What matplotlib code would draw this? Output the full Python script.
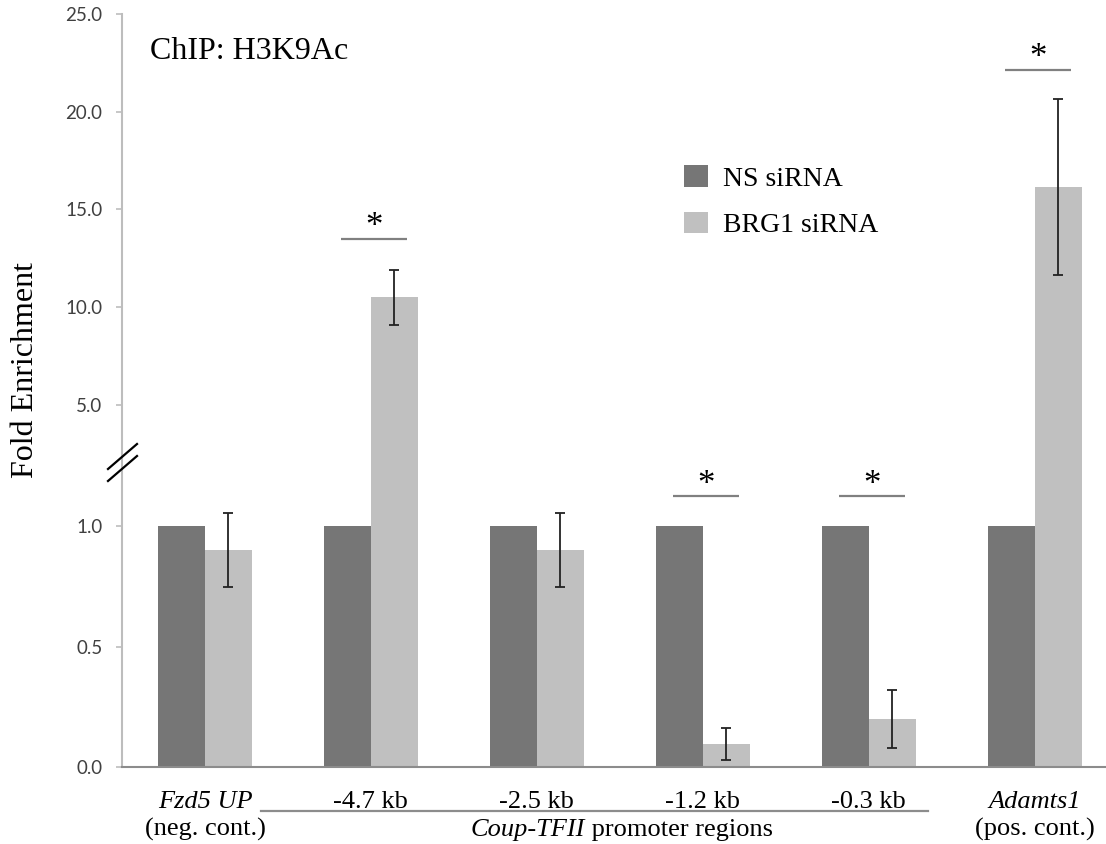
import matplotlib
matplotlib.use("Agg")
import matplotlib.pyplot as plt
import matplotlib.transforms as mtransforms
import numpy as np

groups = ["Fzd5 UP", "-4.7 kb", "-2.5 kb", "-1.2 kb", "-0.3 kb", "Adamts1"]
sublabels = ["(neg. cont.)", "", "", "", "", "(pos. cont.)"]
italic = [True, False, False, False, False, True]
ns_vals = [1.0, 1.0, 1.0, 1.0, 1.0, 1.0]
brg1_vals = [0.90, 10.5, 0.90, 0.095, 0.20, 16.15]
brg1_err = [0.155, 1.4, 0.152, 0.065, 0.12, 4.5]
# significance markers: group index, height of bar line
sig_groups = [1, 3, 4, 5]
sig_heights = [13.5, 1.124, 1.124, 22.15]

NS_COL = "#767676"
BRG_COL = "#c0c0c0"
SERIF = "Liberation Serif"

fig = plt.figure(figsize=(11.06, 8.44), dpi=100)
left, right = 122 / 1106, 1.0
ax_lo = fig.add_axes([left, 77 / 844, right - left, 314 / 844])
ax_hi = fig.add_axes([left, 391 / 844, right - left, 439 / 844])

x = np.arange(len(groups))
w = 0.283
for ax in (ax_lo, ax_hi):
    ax.bar(x - w / 2, ns_vals, w, color=NS_COL, label="NS siRNA")
    ax.bar(x + w / 2, brg1_vals, w, color=BRG_COL, label="BRG1 siRNA")
    ax.errorbar(x + w / 2, brg1_vals, yerr=brg1_err, fmt="none",
                ecolor="#222222", elinewidth=1.3, capsize=3.5, capthick=1.3)
    ax.set_xlim(-0.5, 5.43)
    ax.set_xticks([])
    for s in ("top", "right"):
        ax.spines[s].set_visible(False)
    ax.spines["left"].set_color("#bdbdbd")
    ax.spines["left"].set_linewidth(1.5)
    ax.tick_params(axis="y", direction="out", length=4, width=1.2,
                   color="#bdbdbd", pad=10, labelsize=13.5, labelcolor="#404040")

ax_lo.set_ylim(0, 1.303)
ax_lo.set_yticks([0.0, 0.5, 1.0])
ax_lo.set_yticklabels(["0.0", "0.5", "1.0"], fontfamily="Lato")
ax_lo.spines["bottom"].set_color("#8c8c8c")
ax_lo.spines["bottom"].set_linewidth(1.5)

ax_hi.set_ylim(2.53, 25)
ax_hi.set_yticks([5, 10, 15, 20, 25])
ax_hi.set_yticklabels(["5.0", "10.0", "15.0", "20.0", "25.0"], fontfamily="Lato")
ax_hi.spines["bottom"].set_visible(False)

# break marks on the axis
for dy in (0, 12):
    fig.add_artist(plt.Line2D([108 / 1106, 137 / 1106],
                              [(844 - 469 - dy) / 844, (844 - 444 - dy) / 844],
                              color="black", lw=1.6))

# significance bars
for g, h in zip(sig_groups, sig_heights):
    ax = ax_lo if h < 1.3 else ax_hi
    ax.plot([g - 0.18, g + 0.22], [h, h], color="#808080", lw=1.6,
            solid_capstyle="butt", clip_on=False)
    ax.annotate("*", (g + 0.02, h), xytext=(0, -4), textcoords="offset points",
                ha="center", va="bottom", fontsize=25, fontfamily=SERIF)

# x labels
tr = mtransforms.blended_transform_factory(ax_lo.transData, ax_lo.transAxes)
for i, g in enumerate(groups):
    ax_lo.text(i, -0.11, g, transform=tr, ha="center", va="center",
               fontsize=19, fontfamily=SERIF,
               fontstyle="italic" if italic[i] else "normal")
    if sublabels[i]:
        ax_lo.text(i, -0.2, sublabels[i], transform=tr, ha="center",
                   va="center", fontsize=19, fontfamily=SERIF)

ax_lo.plot([1 - 0.66, 4 + 0.36], [-0.141, -0.141], transform=tr,
           color="#8c8c8c", lw=1.6, clip_on=False)
t1 = ax_lo.text(1.6, -0.2, "Coup-TFII", transform=tr, ha="left", va="center",
                fontsize=19, fontfamily=SERIF, fontstyle="italic")
t2 = ax_lo.annotate(" promoter regions", xy=(1, 0), xycoords=t1,
                    ha="left", va="bottom", fontsize=19, fontfamily=SERIF)

fig.text(26 / 1106, 1 - 370 / 844, "Fold Enrichment", rotation=90,
         ha="center", va="center", fontsize=23, fontfamily=SERIF)
fig.text(150 / 1106, 1 - 59 / 844, "ChIP: H3K9Ac", ha="left",
         va="baseline", fontsize=23, fontfamily=SERIF)

h, l = ax_hi.get_legend_handles_labels()
fig.legend(h, l, loc="upper left", bbox_to_anchor=(684 / 1106, 1 - 165 / 844),
           frameon=False, prop={"family": SERIF, "size": 20},
           handlelength=0.86, handleheight=0.83, handletextpad=0.55,
           labelspacing=0.72, borderpad=0, borderaxespad=0)

fig.savefig("out.png", dpi=100)
